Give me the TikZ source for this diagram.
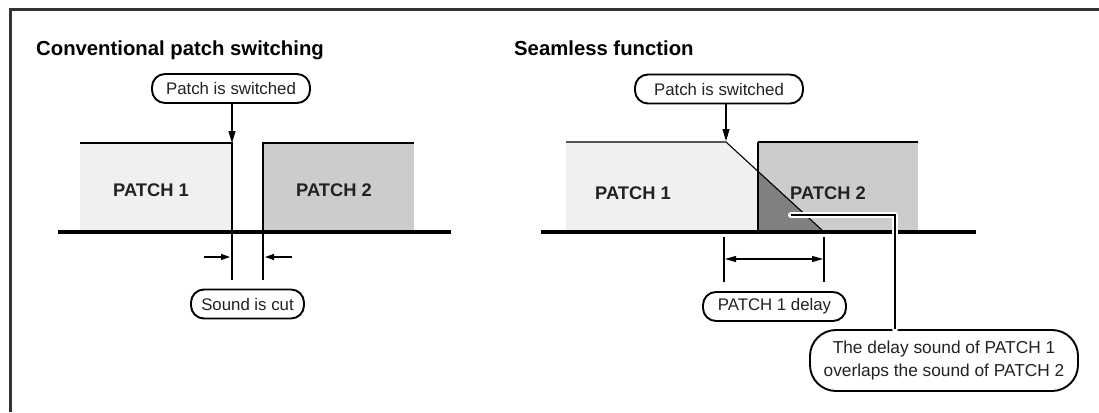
\documentclass[tikz,border=0pt]{standalone}
\usepackage{fontspec}
\setmainfont{Liberation Sans}
\usetikzlibrary{arrows.meta}
\definecolor{frame}{HTML}{333333}
\definecolor{pone}{HTML}{F0F0F0}
\definecolor{ptwo}{HTML}{CCCCCC}
\definecolor{overlap}{HTML}{808080}
\definecolor{txt}{HTML}{222222}
\tikzset{
  pill/.style={draw=black, line width=1.9pt, rounded corners=13pt, minimum height=29pt,
    inner xsep=4pt, inner ysep=0pt, fill=white, text=txt, font=\fontsize{16.8}{20}\selectfont},
  callout/.style={draw=black, line width=1.9pt, rounded corners=26pt, minimum height=61pt,
    minimum width=268pt, align=center, fill=white, text=txt, font=\fontsize{17.3}{23}\selectfont},
  title/.style={anchor=base west, inner sep=0pt, font=\bfseries\fontsize{20.3}{22}\selectfont},
  patchlbl/.style={inner sep=0pt, font=\bfseries\fontsize{18.3}{20}\selectfont, text=txt},
  thin/.style={line width=1.1pt},
  baseln/.style={line width=3.6pt},
  downarrow/.style={line width=1.1pt, -{Triangle[length=12pt,width=7pt]}},
  smallarrow/.style={line width=1.1pt, -{Triangle[length=9pt,width=6pt]}},
  dblarrow/.style={line width=1.1pt, {Triangle[length=11pt,width=6pt]}-{Triangle[length=11pt,width=6pt]}},
}
\begin{document}
\begin{tikzpicture}[x=1pt,y=-1pt]
\useasboundingbox (0,0) rectangle (1099,412);
% frame
\draw[frame, line width=3pt] (10.5,412) -- (10.5,10) -- (1099,10);

% ---------- left diagram ----------
\node[title] (t1) at (36,56) {Conventional patch switching};
\fill[pone] (80,143) rectangle (232,231);
\fill[ptwo] (263,143) rectangle (414,231);
\draw[thin] (80,143) -- (232,143) -- (232,280);
\draw[thin] (414,143) -- (263,143) -- (263,280);
\draw[baseln] (58,232) -- (451,232);
\node[patchlbl] (l1) at (151,190) {PATCH 1};
\node[patchlbl] (l2) at (334,190) {PATCH 2};
\node[pill, minimum width=158pt] (sw1) at (231,88.5) {Patch is switched};
\coordinate (tip1) at (232,143);
\draw[downarrow] (sw1.south -| tip1) -- (tip1);
\coordinate (a1s) at (204,257);
\coordinate (a1e) at (230,257);
\coordinate (a2s) at (292,257);
\coordinate (a2e) at (265,257);
\draw[smallarrow] (a1s) -- (a1e);
\draw[smallarrow] (a2s) -- (a2e);
\node[pill, minimum width=113pt] (cut) at (247.5,304) {Sound is cut};

% ---------- right diagram ----------
\node[title] (t2) at (514,56) {Seamless function};
\fill[pone] (566,142) -- (726,142) -- (823,231) -- (566,231) -- cycle;
\fill[ptwo] (758,142) rectangle (918,231);
\fill[overlap] (758,171) -- (758,231) -- (823,231) -- cycle;
\draw[thin] (566,142) -- (726,142) -- (823,231);
\draw[thin] (758,142) -- (918,142);
\draw[line width=2pt] (758,231) -- (758,142);
\draw[baseln, line width=4pt] (541,232) -- (976,232);
\node[patchlbl] (r1) at (633,193) {PATCH 1};
\node[patchlbl] (r2) at (828,193) {PATCH 2};
\node[pill, minimum width=168pt] (sw2) at (719,89) {Patch is switched};
\coordinate (tip2) at (726,141);
\draw[downarrow] (sw2.south -| tip2) -- (tip2);
\draw[thin] (724,237) -- (724,282);
\draw[thin] (824,237) -- (824,282);
\coordinate (d1) at (725,259);
\coordinate (d2) at (823,259);
\draw[dblarrow] (d1) -- (d2);
\node[pill, minimum width=143pt] (delay) at (774.5,306.5) {PATCH 1 delay};
\node[callout] (co) at (944,360.5) {The delay sound of PATCH 1\\overlaps the sound of PATCH 2};
\coordinate (ls) at (791,215);
\draw[white, line width=6pt, line cap=round, line join=round] (ls) -- (895,215) -- (co.north -| 895,0);
\draw[black, line width=2.6pt, line join=miter] (ls) -- (895,215) -- (co.north -| 895,0);
\end{tikzpicture}
\end{document}
